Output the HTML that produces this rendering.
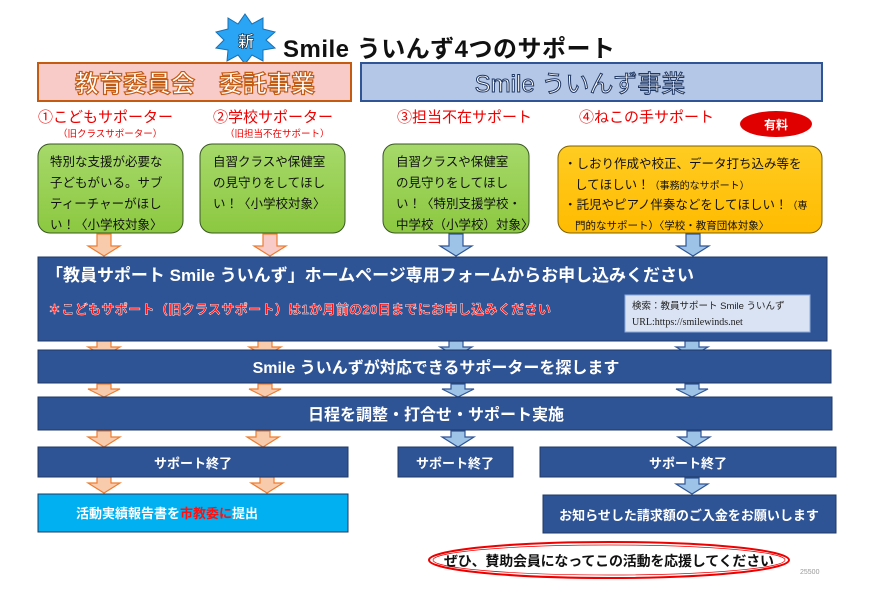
<!DOCTYPE html>
<html><head><meta charset="utf-8"><style>
body{margin:0;background:#fff;}
svg text{font-family:"Liberation Sans","Noto Sans CJK JP",sans-serif;}
</style></head><body>
<svg width="870" height="610" viewBox="0 0 870 610" xmlns="http://www.w3.org/2000/svg">
<defs>
<linearGradient id="g" x1="0" y1="0" x2="0" y2="1"><stop offset="0" stop-color="#a6d96a"/><stop offset="1" stop-color="#8cc840"/></linearGradient>
<linearGradient id="y" x1="0" y1="0" x2="0" y2="1"><stop offset="0" stop-color="#ffcc22"/><stop offset="1" stop-color="#ffbb00"/></linearGradient>
</defs>
<polygon points="245,14 252,24 263,18 263,29 275,32 266,40 275,48 263,50 263,61 252,55 245,64 238,55 227,61 228,50 216,48 224,40 216,32 228,29 228,18 238,24" fill="#2aa4f4" stroke="#1a6fb0" stroke-width="1"/>
<text x="246" y="47" font-size="16" font-weight="bold" fill="#fff" text-anchor="middle" stroke="#123" stroke-width="0.6">新</text>
<text x="283" y="57" font-size="24" font-weight="bold" fill="#111" textLength="332">Smile ういんず4つのサポート</text>
<rect x="38" y="63" width="313" height="38" fill="#f8cbc8" stroke="#c55a11" stroke-width="2"/>
<text x="195" y="92" font-size="24" font-weight="bold" fill="#fff" stroke="#c55a11" stroke-width="1.2" text-anchor="middle">教育委員会　委託事業</text>
<rect x="361" y="63" width="461" height="38" fill="#b4c7e7" stroke="#2f5597" stroke-width="2"/>
<text x="580" y="92" font-size="24" fill="#fff" stroke="#203864" stroke-width="1" text-anchor="middle">Smile ういんず事業</text>
<g font-size="15" fill="#e00">
<text x="38" y="122">①こどもサポーター</text>
<text x="213" y="122">②学校サポーター</text>
<text x="397" y="122">③担当不在サポート</text>
<text x="579" y="122">④ねこの手サポート</text>
</g>
<g font-size="9.5" fill="#e00">
<text x="58" y="137">（旧クラスサポーター）</text>
<text x="225" y="137">（旧担当不在サポート）</text>
</g>
<ellipse cx="776" cy="124" rx="36" ry="13" fill="#e00000"/>
<text x="776" y="129" font-size="12" font-weight="bold" fill="#fff" text-anchor="middle">有料</text>
<rect x="38" y="144" width="145" height="89" rx="12" fill="url(#g)" stroke="#385723" stroke-width="1"/>
<rect x="200" y="144" width="145" height="89" rx="12" fill="url(#g)" stroke="#385723" stroke-width="1"/>
<rect x="383" y="144" width="146" height="89" rx="12" fill="url(#g)" stroke="#385723" stroke-width="1"/>
<rect x="558" y="146" width="264" height="87" rx="12" fill="url(#y)" stroke="#7f6000" stroke-width="1"/>
<g font-size="12.5" fill="#111">
<text x="50" y="166">特別な支援が必要な</text>
<text x="50" y="187">子どもがいる。サブ</text>
<text x="50" y="208">ティーチャーがほし</text>
<text x="50" y="229">い！〈小学校対象〉</text>
<text x="213" y="166">自習クラスや保健室</text>
<text x="213" y="187">の見守りをしてほし</text>
<text x="213" y="208">い！〈小学校対象〉</text>
<text x="396" y="166">自習クラスや保健室</text>
<text x="396" y="187">の見守りをしてほし</text>
<text x="396" y="208">い！〈特別支援学校・</text>
<text x="396" y="229">中学校（小学校）対象〉</text>
<text x="564" y="168">・しおり作成や校正、データ打ち込み等を</text>
<text x="575" y="189">してほしい！<tspan font-size="10">（事務的なサポート）</tspan></text>
<text x="564" y="209">・託児やピアノ伴奏などをしてほしい！<tspan font-size="10">（専</tspan></text>
<text x="575" y="229" font-size="10.5">門的なサポート）〈学校・教育団体対象〉</text>
</g>
<g stroke-width="1.2">
<g fill="#f8cbad" stroke="#ed7d31">
<path d="M97,234h14v12h9l-16,10l-16,-10h9z"/>
<path d="M97,341h14v6h9l-16,9l-16,-9h9z"/>
<path d="M97,384h14v5h9l-16,8l-16,-8h9z"/>
<path d="M97,431h14v6h9l-16,10l-16,-10h9z"/>
<path d="M97,477h14v6h9l-16,10l-16,-10h9z"/>
<path d="M258,341h14v6h9l-16,9l-16,-9h9z"/>
<path d="M258,384h14v5h9l-16,8l-16,-8h9z"/>
<path d="M256,431h14v6h9l-16,10l-16,-10h9z"/>
<path d="M260,477h14v6h9l-16,10l-16,-10h9z"/>
</g>
<path d="M263,234h14v12h9l-16,10l-16,-10h9z" fill="#f8cbc8" stroke="#ed7d31"/>
<g fill="#9dc3e6" stroke="#2f5597">
<path d="M449,234h14v12h9l-16,10l-16,-10h9z"/>
<path d="M449,341h14v6h9l-16,9l-16,-9h9z"/>
<path d="M451,384h14v5h9l-16,8l-16,-8h9z"/>
<path d="M451,431h14v6h9l-16,10l-16,-10h9z"/>
<path d="M686,234h14v12h9l-16,10l-16,-10h9z"/>
<path d="M685,341h14v6h9l-16,9l-16,-9h9z"/>
<path d="M685,384h14v5h9l-16,8l-16,-8h9z"/>
<path d="M687,431h14v6h9l-16,10l-16,-10h9z"/>
<path d="M685,478h14v6h9l-16,10l-16,-10h9z"/>
</g>
</g>
<g fill="#2f5496" stroke="#1f3864" stroke-width="1">
<rect x="38" y="257" width="789" height="84"/>
<rect x="38" y="350" width="793" height="33"/>
<rect x="38" y="397" width="794" height="33"/>
<rect x="38" y="447" width="310" height="30"/>
<rect x="398" y="447" width="115" height="30"/>
<rect x="540" y="447" width="296" height="30"/>
<rect x="543" y="495" width="293" height="38"/>
</g>
<rect x="38" y="494" width="310" height="38" fill="#00b0f0" stroke="#1f3864" stroke-width="1"/>
<g font-weight="bold" fill="#fff">
<text x="46" y="281" font-size="17" textLength="648">「教員サポート Smile ういんず」ホームページ専用フォームからお申し込みください</text>
<text x="48" y="314" font-size="13" fill="#ff1010" stroke="#fff" stroke-width="0.4" textLength="503">＊こどもサポート（旧クラスサポート）は1か月前の20日までにお申し込みください</text>
<text x="436" y="373" font-size="16" text-anchor="middle">Smile ういんずが対応できるサポーターを探します</text>
<text x="436" y="420" font-size="16" text-anchor="middle">日程を調整・打合せ・サポート実施</text>
<text x="193" y="468" font-size="13" text-anchor="middle">サポート終了</text>
<text x="455" y="468" font-size="13" text-anchor="middle">サポート終了</text>
<text x="688" y="468" font-size="13" text-anchor="middle">サポート終了</text>
<text x="76" y="518" font-size="13">活動実績報告書を<tspan fill="#ff1010">市教委に</tspan>提出</text>
<text x="689" y="520" font-size="13" text-anchor="middle">お知らせした請求額のご入金をお願いします</text>
</g>
<rect x="625" y="295" width="185" height="37" fill="#dae3f3" stroke="#8faadc" stroke-width="1"/>
<text x="632" y="309" font-size="9.5" fill="#222">検索：教員サポート Smile ういんず</text>
<text x="632" y="325" font-size="10" fill="#222" style="font-family:'Liberation Serif',serif">URL:https://smilewinds.net</text>
<ellipse cx="609" cy="560" rx="180" ry="18" fill="#fff" stroke="#e00" stroke-width="2"/>
<ellipse cx="609" cy="560" rx="176" ry="15" fill="none" stroke="#e00" stroke-width="0.7"/>
<text x="444" y="566" font-size="14" font-weight="bold" fill="#111" textLength="330">ぜひ、賛助会員になってこの活動を応援してください</text>
<text x="800" y="574" font-size="7" fill="#999">25500</text>
</svg>
</body></html>
